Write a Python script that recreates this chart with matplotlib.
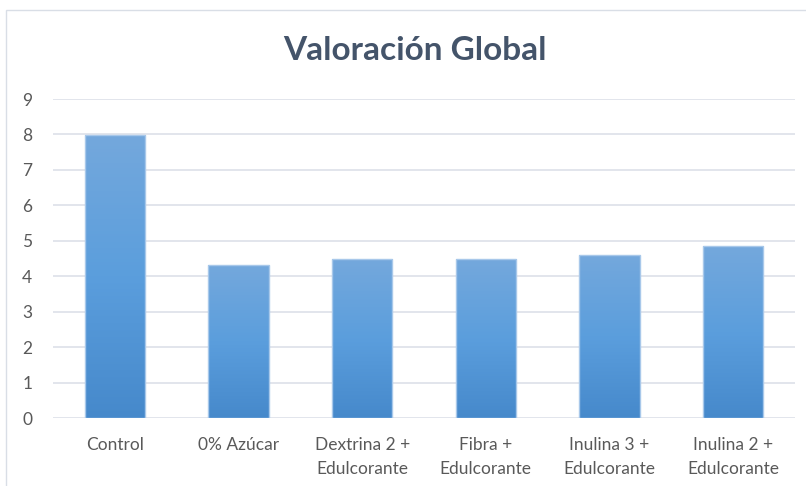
import numpy as np
import matplotlib
matplotlib.use("Agg")
import matplotlib.pyplot as plt
from matplotlib.patches import Rectangle
from matplotlib.colors import LinearSegmentedColormap

categories = ["Control", "0% Azúcar", "Dextrina 2 +\nEdulcorante", "Fibra +\nEdulcorante",
              "Inulina 3 +\nEdulcorante", "Inulina 2 +\nEdulcorante"]
values = [7.99, 4.33, 4.48, 4.48, 4.60, 4.85]
yticks = list(range(0, 10))
title = "Valoración Global"

plt.rcParams['font.family'] = ['Lato', 'DejaVu Sans']

W, H = 806, 486
fig = plt.figure(figsize=(W / 100, H / 100), dpi=100)
fig.patch.set_facecolor("white")

# chart border
fig.add_artist(Rectangle((6 / W, -0.1), 1.2, 1 - 10 / H + 0.1, transform=fig.transFigure,
                         fill=False, edgecolor="#D9DEE6", linewidth=1.0))

ax = fig.add_axes([53 / W, (H - 418) / H, (795 - 53) / W, (418 - 99) / H])

for s in ax.spines.values():
    s.set_visible(False)
ax.set_yticks(yticks)
ax.yaxis.grid(True, color="#DFE3EA", linewidth=1.3)
ax.set_axisbelow(True)
ax.tick_params(axis="both", length=0, colors="#595959", labelsize=12.5)
ax.tick_params(axis="y", pad=15)
ax.tick_params(axis="x", pad=14)
ax.set_xticks(range(len(categories)))
ax.set_xticklabels(categories, linespacing=1.55)

cmap = LinearSegmentedColormap.from_list("g", ["#4689CB", "#5B9EDD", "#74A8DC"])
grad = np.linspace(0, 1, 256).reshape(-1, 1)
bw = 0.49
for i, v in enumerate(values):
    im = ax.imshow(grad, extent=(i - bw / 2, i + bw / 2, 0, v), origin="lower",
                   cmap=cmap, aspect="auto", zorder=2)
    r = Rectangle((i - bw / 2, 0), bw, v, facecolor="none", edgecolor="#A8C8EA",
                  linewidth=1.0, zorder=3)
    ax.add_patch(r)
    im.set_clip_path(r)
ax.set_xlim(-0.5, len(categories) - 0.5)
ax.set_ylim(0, 9)

fig.text(415 / W, 1 - 51 / H, title, ha="center", va="center", fontsize=24,
         fontweight="bold", color="#44546A")

fig.savefig("out.png", dpi=100)
